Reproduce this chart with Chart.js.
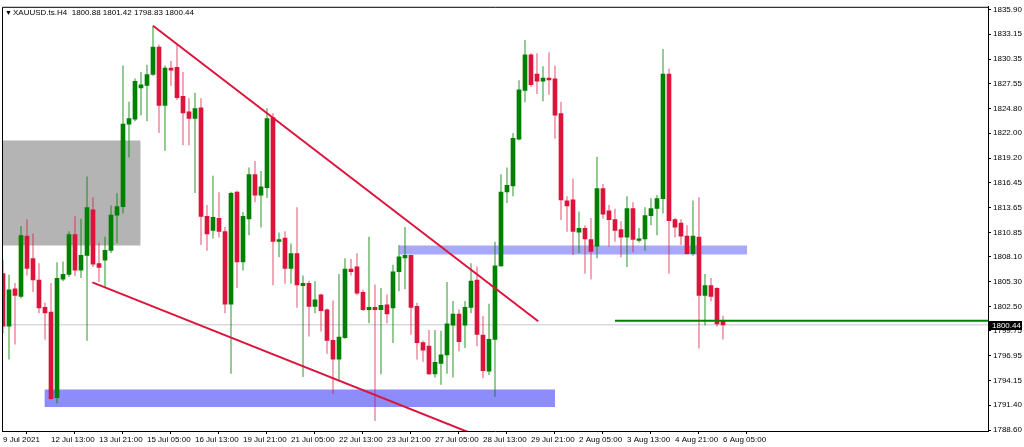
<!DOCTYPE html>
<html>
<head>
<meta charset="utf-8">
<script src="https://cdn.jsdelivr.net/npm/chart.js@4.4.0/dist/chart.umd.min.js"></script>
<style>
  html, body { margin: 0; padding: 0; background: #fff; }
  #wrap { width: 1024px; height: 447px; position: relative; }
</style>
</head>
<body>
<div id="wrap"><canvas id="chart"></canvas></div>
<script>
// XAUUSD H4, 9 Jul - 6 Aug 2021 (one value per bar)
const symbol = 'XAUUSD.ts.H4';

const opens = [
  1806.22, 1800.29, 1804.48, 1803.63, 1810.42, 1807.89, 1805.48, 1802.40, 1801.88, 1792.24,
  1805.59, 1806.11, 1810.60, 1806.59, 1808.26, 1813.38, 1807.34, 1807.71, 1808.82, 1812.79,
  1813.75, 1823.03, 1823.59, 1827.11, 1827.37, 1828.61, 1831.71, 1825.14, 1829.34, 1829.41,
  1826.15, 1824.40, 1823.66, 1824.85, 1812.64, 1811.05, 1812.42, 1810.94, 1802.77, 1815.39,
  1807.52, 1812.35, 1817.35, 1815.02, 1815.87, 1823.77, 1809.82, 1810.19, 1806.78, 1808.45,
  1804.85, 1805.11, 1802.51, 1803.81, 1802.14, 1798.69, 1796.58, 1798.99, 1806.71, 1806.97,
  1804.11, 1802.14, 1802.40, 1802.14, 1802.70, 1802.33, 1806.41, 1807.97, 1808.26, 1802.51,
  1798.43, 1798.06, 1794.91, 1796.10, 1797.06, 1800.40, 1801.66, 1800.40, 1802.40, 1805.48,
  1799.29, 1795.21, 1798.80, 1807.08, 1815.39, 1816.06, 1821.32, 1826.81, 1830.82, 1828.67,
  1827.85, 1828.22, 1828.11, 1824.22, 1814.38, 1814.50, 1810.86, 1811.31, 1810.04, 1809.30,
  1815.76, 1813.27, 1812.27, 1811.16, 1810.30, 1813.53, 1809.93, 1810.12, 1812.72, 1813.53,
  1814.65, 1828.67, 1812.27, 1811.90, 1810.42, 1808.45, 1810.30, 1803.74, 1804.85, 1804.55,
  1800.88
];
const highs = [
  1807.71, 1806.04, 1805.11, 1811.53, 1812.27, 1810.68, 1807.34, 1802.89, 1805.11, 1807.45,
  1807.52, 1810.94, 1812.61, 1812.35, 1817.09, 1814.76, 1809.67, 1810.30, 1813.83, 1815.20,
  1829.60, 1825.52, 1828.11, 1828.85, 1829.67, 1834.05, 1831.93, 1829.60, 1830.08, 1831.93,
  1828.85, 1825.89, 1826.52, 1825.89, 1813.90, 1817.17, 1815.31, 1811.42, 1815.39, 1815.50,
  1813.09, 1818.10, 1818.84, 1817.72, 1824.77, 1824.22, 1810.79, 1810.94, 1809.56, 1813.64,
  1805.96, 1805.37, 1805.30, 1803.89, 1802.25, 1803.14, 1806.11, 1807.89, 1807.82, 1808.45,
  1804.37, 1810.30, 1804.93, 1804.55, 1803.81, 1807.15, 1809.38, 1811.42, 1808.30, 1802.89,
  1798.62, 1799.81, 1799.81, 1799.73, 1805.22, 1803.07, 1802.14, 1803.07, 1807.34, 1806.97,
  1801.40, 1802.77, 1809.75, 1817.35, 1818.10, 1821.99, 1827.93, 1832.45, 1830.97, 1830.97,
  1829.49, 1831.08, 1829.60, 1825.52, 1814.87, 1816.87, 1813.16, 1811.60, 1812.42, 1819.32,
  1816.24, 1813.90, 1813.46, 1812.05, 1814.87, 1814.20, 1811.31, 1813.64, 1814.65, 1815.02,
  1831.45, 1829.23, 1812.42, 1812.27, 1811.60, 1814.38, 1814.76, 1806.11, 1805.67, 1804.63,
  1801.42
];
const lows = [
  1799.55, 1796.58, 1798.25, 1803.44, 1806.04, 1804.18, 1801.77, 1798.80, 1792.05, 1791.64,
  1805.37, 1805.85, 1805.96, 1805.74, 1798.69, 1806.97, 1805.30, 1804.63, 1808.56, 1809.67,
  1813.01, 1819.32, 1823.40, 1824.03, 1823.40, 1828.50, 1822.06, 1820.06, 1827.37, 1825.78,
  1820.69, 1820.69, 1815.31, 1809.45, 1808.82, 1810.19, 1810.30, 1801.77, 1794.98, 1804.63,
  1806.59, 1810.56, 1814.27, 1811.42, 1814.76, 1804.93, 1808.08, 1805.11, 1805.11, 1802.40,
  1794.61, 1799.17, 1801.77, 1799.73, 1797.21, 1792.68, 1794.09, 1798.91, 1806.04, 1803.81,
  1802.03, 1800.66, 1789.64, 1794.91, 1800.66, 1798.43, 1804.26, 1804.48, 1799.36, 1796.58,
  1796.32, 1794.83, 1794.54, 1793.72, 1794.98, 1794.54, 1797.51, 1797.88, 1801.77, 1798.06,
  1794.46, 1794.83, 1792.39, 1807.00, 1814.20, 1814.94, 1821.25, 1825.52, 1827.26, 1826.44,
  1825.63, 1826.37, 1821.43, 1812.27, 1810.94, 1808.34, 1808.56, 1806.22, 1805.59, 1807.97,
  1812.42, 1809.30, 1809.82, 1808.08, 1806.97, 1808.63, 1809.75, 1808.82, 1811.68, 1810.56,
  1813.01, 1806.22, 1810.30, 1809.45, 1808.40, 1808.26, 1797.80, 1800.40, 1803.14, 1800.29,
  1798.83
];
const closes = [
  1800.29, 1804.37, 1803.74, 1810.49, 1806.78, 1805.48, 1802.33, 1801.77, 1792.12, 1805.67,
  1806.11, 1810.60, 1806.59, 1808.26, 1813.64, 1807.26, 1806.89, 1808.82, 1812.79, 1813.75,
  1823.03, 1823.66, 1827.85, 1827.45, 1828.61, 1831.71, 1825.14, 1829.34, 1829.11, 1826.00,
  1824.29, 1823.66, 1824.77, 1812.64, 1810.68, 1812.53, 1810.94, 1802.77, 1815.24, 1807.52,
  1812.64, 1817.35, 1815.02, 1815.98, 1823.66, 1809.82, 1810.04, 1806.78, 1808.45, 1804.93,
  1805.11, 1802.51, 1803.26, 1802.03, 1798.69, 1796.58, 1799.06, 1806.71, 1806.41, 1804.00,
  1802.14, 1802.40, 1802.14, 1802.62, 1801.66, 1806.41, 1808.08, 1808.26, 1802.40, 1798.43,
  1797.58, 1794.91, 1796.21, 1797.06, 1800.55, 1801.66, 1798.54, 1802.40, 1805.37, 1799.36,
  1795.28, 1798.80, 1807.08, 1815.39, 1816.13, 1821.43, 1826.89, 1830.82, 1827.48, 1827.85,
  1828.22, 1828.00, 1824.03, 1814.50, 1813.83, 1810.94, 1811.31, 1810.12, 1808.71, 1815.76,
  1812.90, 1812.27, 1811.05, 1810.30, 1813.53, 1810.04, 1810.12, 1812.72, 1813.53, 1814.65,
  1828.67, 1812.16, 1811.42, 1810.42, 1808.45, 1810.42, 1803.74, 1804.85, 1803.63, 1800.55,
  1800.44
];

// time axis: a label every 8 bars
const xTickBars = [0, 8, 16, 24, 32, 40, 48, 56, 64, 72, 80, 88, 96, 104, 112, 120];
const xTickLabels = [
  '9 Jul 2021', '12 Jul 13:00', '13 Jul 21:00', '15 Jul 05:00', '16 Jul 13:00', '19 Jul 21:00',
  '21 Jul 05:00', '22 Jul 13:00', '23 Jul 21:00', '27 Jul 05:00', '28 Jul 13:00', '29 Jul 21:00',
  '2 Aug 05:00', '3 Aug 13:00', '4 Aug 21:00', '6 Aug 05:00'
];
const yTicks = [
  1835.90, 1833.15, 1830.35, 1827.55, 1824.80, 1822.00, 1819.20, 1816.45, 1813.65,
  1810.85, 1808.10, 1805.30, 1802.50, 1799.75, 1796.95, 1794.15, 1791.40, 1788.60
];

const xMin = -1 / 6;
const xMax = 164.17;
const yMin = 1788.49;
const yMax = 1836.23;

// drawn objects: [bar, price]
const upperTrend = [[25, 1834.10], [89.2, 1800.85]];
const lowerTrend = [[14.9, 1805.22], [77.8, 1788.30]];
const levelLine = [[102, 1800.90], [xMax, 1800.90]];
// zones: [fromBar, toBar, lowPrice, highPrice]
const greyZone = [-1, 22.95, 1809.38, 1821.17];
const lowZone = [6.9, 92, 1791.20, 1793.17];
const midZone = [66.05, 124, 1808.34, 1809.38];

const FONT = "'Liberation Sans Narrow', 'Liberation Sans', sans-serif";
const UP = '#008000';
const DOWN = '#dc143c';

const bars = closes.map((_, i) => i);
const isUp = bars.map((i) => closes[i] >= opens[i]);
const lastBar = bars.length - 1;

function pts(arr) {
  return arr.map((p) => ({ x: p[0], y: p[1] }));
}

function zone(z, color) {
  return {
    type: 'line',
    data: [{ x: z[0], y: z[3] }, { x: z[1], y: z[3] }],
    borderColor: 'rgba(0,0,0,0)',
    borderWidth: 0,
    pointRadius: 0,
    backgroundColor: color,
    fill: { value: z[2] },
    order: 10
  };
}

const overlay = {
  id: 'overlay',
  afterDraw(chart) {
    const { ctx, chartArea: a, scales } = chart;
    ctx.save();
    ctx.strokeStyle = '#000';
    ctx.lineWidth = 1;
    ctx.beginPath();
    ctx.moveTo(a.left + 0.5, a.bottom);
    ctx.lineTo(a.left + 0.5, a.top + 0.5);
    ctx.lineTo(a.right, a.top + 0.5);
    ctx.stroke();

    ctx.fillStyle = '#000';
    ctx.textBaseline = 'middle';
    ctx.font = '7px ' + FONT;
    ctx.fillText('\u25BC', a.left + 3, a.top + 6);
    ctx.font = '8px ' + FONT;
    const ohlc = [opens[lastBar], highs[lastBar], lows[lastBar], closes[lastBar]]
      .map((v) => v.toFixed(2)).join(' ');
    ctx.fillText(symbol + '  ' + ohlc, a.left + 11, a.top + 6);

    // bid label
    const y = scales.y.getPixelForValue(closes[lastBar]);
    ctx.fillStyle = '#000';
    ctx.fillRect(a.right + 1, Math.round(y) - 4, 33, 9);
    ctx.fillStyle = '#fff';
    ctx.fillText(closes[lastBar].toFixed(2), a.right + 4, Math.round(y) + 0.5);
    ctx.restore();
  }
};

const axisGrid = { display: true, drawOnChartArea: false, drawTicks: true, tickLength: 3, color: '#000' };

new Chart(document.getElementById('chart'), {
  type: 'bar',
  data: {
    datasets: [
      zone(greyZone, '#b4b4b4'),
      zone(lowZone, '#8c8cfa'),
      zone(midZone, '#a8a8f8'),
      {
        type: 'line',
        data: [{ x: xMin, y: closes[lastBar] }, { x: xMax, y: closes[lastBar] }],
        borderColor: '#c4c8d0',
        borderWidth: 1,
        pointRadius: 0,
        order: 9
      },
      {
        label: 'wicks',
        data: bars.map((i) => ({ x: i, y: [lows[i], highs[i]] })),
        backgroundColor: isUp.map((u) => (u ? 'rgba(0,128,0,0.5)' : 'rgba(220,20,60,0.45)')),
        barThickness: 1,
        grouped: false,
        order: 5
      },
      {
        label: 'bodies',
        data: bars.map((i) => ({ x: i, y: [Math.min(opens[i], closes[i]), Math.max(opens[i], closes[i])] })),
        backgroundColor: isUp.map((u) => (u ? UP : DOWN)),
        barThickness: 4,
        minBarLength: 1,
        grouped: false,
        order: 4
      },
      {
        type: 'line',
        data: pts(upperTrend),
        borderColor: DOWN,
        borderWidth: 2,
        pointRadius: 0,
        order: 1
      },
      {
        type: 'line',
        data: pts(lowerTrend),
        borderColor: DOWN,
        borderWidth: 2,
        pointRadius: 0,
        order: 1
      },
      {
        type: 'line',
        data: pts(levelLine),
        borderColor: UP,
        borderWidth: 2,
        pointRadius: 0,
        clip: 0,
        order: 1
      }
    ]
  },
  options: {
    responsive: true,
    maintainAspectRatio: false,
    animation: false,
    layout: { padding: { left: 2, top: 2, right: 0, bottom: 0 } },
    plugins: { legend: { display: false }, tooltip: { enabled: false } },
    scales: {
      x: {
        type: 'linear',
        min: xMin,
        max: xMax,
        offset: false,
        grid: axisGrid,
        border: { display: true, color: '#000' },
        ticks: {
          autoSkip: false,
          maxRotation: 0,
          align: 'start',
          padding: 1,
          color: '#000',
          font: { family: FONT, size: 8 },
          callback: (v) => xTickLabels[xTickBars.indexOf(v)]
        },
        afterBuildTicks: (s) => { s.ticks = xTickBars.map((v) => ({ value: v })); },
        afterFit: (s) => { s.height = 16; }
      },
      y: {
        type: 'linear',
        position: 'right',
        min: yMin,
        max: yMax,
        grid: axisGrid,
        border: { display: true, color: '#000' },
        ticks: {
          autoSkip: false,
          padding: 2,
          color: '#000',
          font: { family: FONT, size: 8 },
          callback: (v) => v.toFixed(2)
        },
        afterBuildTicks: (s) => { s.ticks = yTicks.map((v) => ({ value: v })); },
        afterFit: (s) => { s.width = 36; }
      }
    }
  },
  plugins: [overlay]
});
</script>
</body>
</html>
